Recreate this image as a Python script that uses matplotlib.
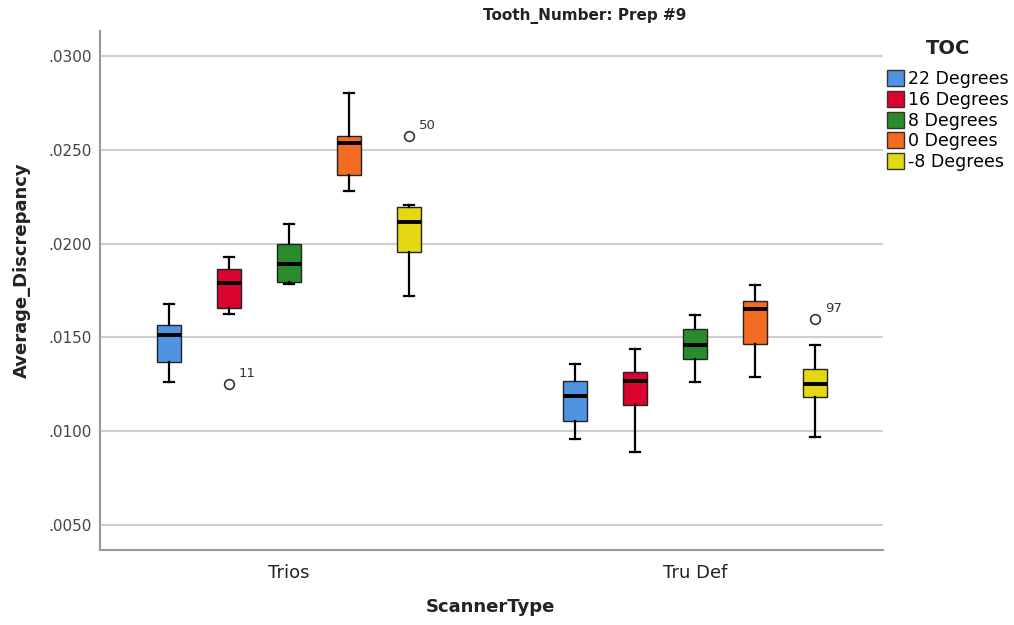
import matplotlib
matplotlib.use("Agg")
import matplotlib.pyplot as plt
from matplotlib.patches import Patch

plt.rcParams['font.family'] = ['DejaVu Sans']

scanners = ["Trios", "Tru Def"]
toc_levels = ["22 Degrees", "16 Degrees", "8 Degrees", "0 Degrees", "-8 Degrees"]
colors = ["#4f94e3", "#d9042f", "#2b8a2b", "#f46b22", "#e4d813"]

# per scanner, per TOC level: (whislo, q1, median, q3, whishi)
trios_whislo = [0.01263, 0.01624, 0.01786, 0.02282, 0.01722]
trios_q1     = [0.01366, 0.01655, 0.01797, 0.02367, 0.01954]
trios_med    = [0.01512, 0.01792, 0.01892, 0.02540, 0.02118]
trios_q3     = [0.01566, 0.01863, 0.01997, 0.02575, 0.02198]
trios_whishi = [0.01680, 0.01931, 0.02105, 0.02803, 0.02205]
trios_fliers = [[], [0.01249], [], [], [0.02575]]
trios_flier_ids = [[], ["11"], [], [], ["50"]]

trudef_whislo = [0.00955, 0.00889, 0.01261, 0.01286, 0.00967]
trudef_q1     = [0.01054, 0.01138, 0.01384, 0.01466, 0.01179]
trudef_med    = [0.01188, 0.01267, 0.01459, 0.01650, 0.01251]
trudef_q3     = [0.01267, 0.01316, 0.01544, 0.01694, 0.01331]
trudef_whishi = [0.01357, 0.01436, 0.01619, 0.01779, 0.01460]
trudef_fliers = [[], [], [], [], [0.01596]]
trudef_flier_ids = [[], [], [], [], ["97"]]

yticks = [0.005, 0.010, 0.015, 0.020, 0.025, 0.030]
ytick_labels = [".0050", ".0100", ".0150", ".0200", ".0250", ".0300"]

fig = plt.figure(figsize=(10.14, 6.25), dpi=100)
ax = fig.add_axes([100/1014, 1-550/625, 783/1014, 519/625])

groups = [
    (trios_whislo, trios_q1, trios_med, trios_q3, trios_whishi, trios_fliers, trios_flier_ids),
    (trudef_whislo, trudef_q1, trudef_med, trudef_q3, trudef_whishi, trudef_fliers, trudef_flier_ids),
]
offset = 0.1478
bw = 0.057
for gi, (wl, q1, med, q3, wh, fl, ids) in enumerate(groups):
    for k in range(len(toc_levels)):
        pos = gi + (k - 2) * offset
        stats = [dict(whislo=wl[k], q1=q1[k], med=med[k], q3=q3[k], whishi=wh[k], fliers=fl[k])]
        ax.bxp(stats, positions=[pos], widths=bw, capwidths=0.026, patch_artist=True,
               showfliers=True, manage_ticks=False,
               boxprops=dict(facecolor=colors[k], edgecolor="#222222", linewidth=1.0),
               medianprops=dict(color="black", linewidth=2.8),
               whiskerprops=dict(color="black", linewidth=1.6),
               capprops=dict(color="black", linewidth=1.6),
               flierprops=dict(marker="o", markerfacecolor="white", markeredgecolor="#333333",
                               markersize=7, markeredgewidth=1.2))
        for v, lab in zip(fl[k], ids[k]):
            ax.annotate(lab, (pos, v), xytext=(7, 5), textcoords="offset points",
                        fontsize=9.5, color="#333333")

ax.set_xlim(-0.4655, 1.463)
ax.set_ylim(0.00364, 0.03136)
ax.set_yticks(yticks)
ax.set_yticklabels(ytick_labels, fontsize=11, color="#444444")
ax.set_xticks([0, 1])
ax.set_xticklabels(scanners, fontsize=13, color="#222222")
ax.tick_params(axis="y", length=0, pad=6)
ax.tick_params(axis="x", length=0, pad=10)
ax.yaxis.grid(True, color="#cfcfcf", linewidth=1.5)
ax.set_axisbelow(True)
for s in ["top", "right"]:
    ax.spines[s].set_visible(False)
for s in ["left", "bottom"]:
    ax.spines[s].set_color("#999999")
    ax.spines[s].set_linewidth(1.5)

fig.text(585/1014, 1-16/625, "Tooth_Number: Prep #9", ha="center", va="center",
         fontsize=11, fontweight="bold", color="#222222")
fig.text(22/1014, 1-270/625, "Average_Discrepancy", rotation=90, ha="center", va="center",
         fontsize=13, fontweight="bold", color="#222222")
fig.text(490/1014, 1-607/625, "ScannerType", ha="center", va="center",
         fontsize=13, fontweight="bold", color="#222222")

fig.text(948/1014, 1-49/625, "TOC", ha="center", va="center",
         fontsize=14, fontweight="bold", color="#222222")
handles = [Patch(facecolor=c, edgecolor="#333333", linewidth=1.0) for c in colors]
leg = fig.legend(handles, toc_levels, loc="upper left", bbox_to_anchor=(887/1014, 1-70/625),
                 frameon=False, fontsize=12.5, handlelength=1.0, handleheight=1.05,
                 handletextpad=0.2, labelspacing=0.16, borderaxespad=0, borderpad=0)

fig.savefig("out.png", dpi=100)
